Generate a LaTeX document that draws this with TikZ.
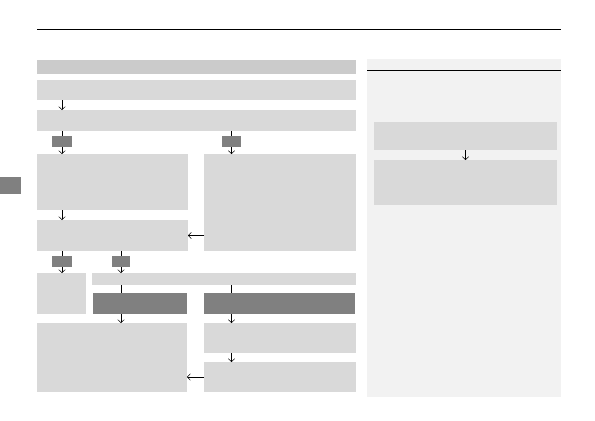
\documentclass[tikz,border=0pt]{standalone}
\usepackage{xcolor}
\usepackage{tikz}
\usetikzlibrary{arrows.meta, calc}
\definecolor{hdrgray}{RGB}{203,203,203}
\definecolor{boxgray}{RGB}{217,217,217}
\definecolor{tagdark}{RGB}{128,128,128}
\definecolor{panelgray}{RGB}{242,242,242}
\tikzset{
  box/.style={rectangle, fill=boxgray, anchor=north west,
    inner sep=0pt, outer sep=0pt},
  hdrbox/.style={box, fill=hdrgray},
  tagbox/.style={box, fill=tagdark},
  darkbox/.style={box, fill=tagdark},
  panelbox/.style={box, fill=panelgray},
  sz/.style 2 args={minimum width=#1bp, minimum height=#2bp},
  arrow/.style={-{Straight Barb[length=3bp, width=6.5bp, line width=0.5bp]},
    line width=0.8bp, color=black},
  line/.style={line width=0.8bp, color=black},
  rule/.style={line width=1bp, color=black}
}
\begin{document}
\begin{tikzpicture}[x=1bp, y=-1bp]
  \useasboundingbox (0,0) rectangle (595,420);
  % page rule and side tab
  \coordinate (ruleL) at (37,29.3);
  \coordinate (ruleR) at (561,29.3);
  \draw[rule] (ruleL) -- (ruleR);
  \node[tagbox, sz={21}{17}] (tab) at (0,177) {};

  % main flow
  \node[hdrbox, sz={319}{14}] (hdr) at (37,60) {};
  \node[box, sz={319}{20}] (step1) at (37,80) {};
  \node[box, sz={319}{21}] (step2) at (37,110) {};
  \node[tagbox, sz={20}{11}] (tagA) at (52,136) {};
  \node[tagbox, sz={19}{11}] (tagB) at (222,136) {};
  \node[box, sz={151}{56}] (leftA) at (37,154) {};
  \node[box, sz={152}{97}] (rightA) at (204,154) {};
  \node[box, sz={151}{31}] (leftB) at (37,220) {};
  \node[tagbox, sz={20}{11}] (tagC) at (52,256) {};
  \node[tagbox, sz={18}{11}] (tagD) at (112,256) {};
  \node[box, sz={49}{41}] (small) at (37,273) {};
  \node[box, sz={264}{12}] (bar) at (92,273) {};
  \node[darkbox, sz={94}{21}] (darkL) at (93,293) {};
  \node[darkbox, sz={151}{21}] (darkR) at (204,293) {};
  \node[box, sz={150}{69}] (leftC) at (37,323) {};
  \node[box, sz={152}{30}] (rightB) at (204,323) {};
  \node[box, sz={152}{30}] (rightC) at (204,362) {};

  \draw[arrow] (step1.south -| tagA) -- (step2.north -| tagA);
  \draw[line] (step2.south -| tagA) -- (tagA.north);
  \draw[arrow] (tagA.south) -- (leftA.north -| tagA);
  \draw[line] (step2.south -| tagB) -- (tagB.north);
  \draw[arrow] (tagB.south) -- (rightA.north -| tagB);
  \draw[arrow] (leftA.south -| tagA) -- (leftB.north -| tagA);
  \draw[arrow] (rightA.west |- leftB) -- (leftB.east);
  \draw[line] (leftB.south -| tagC) -- (tagC.north);
  \draw[arrow] (tagC.south) -- (small.north -| tagC);
  \draw[line] (leftB.south -| tagD) -- (tagD.north);
  \draw[arrow] (tagD.south) -- (bar.north -| tagD);
  \draw[line] (bar.south -| tagD) -- (darkL.north -| tagD);
  \draw[line] (bar.south -| tagB) -- (darkR.north -| tagB);
  \draw[arrow] (darkL.south -| tagD) -- (leftC.north -| tagD);
  \draw[arrow] (darkR.south -| tagB) -- (rightB.north -| tagB);
  \draw[arrow] (rightB.south -| tagB) -- (rightC.north -| tagB);
  \draw[arrow] (rightC.west) -- (rightC.west -| leftC.east);

  % side panel
  \node[panelbox, sz={194}{338}] (side) at (367,59) {};
  \draw[rule] ($(side.north west)+(0,11.3)$) -- ($(side.north east)+(0,11.3)$);
  \node[box, sz={183}{28}] (noteA) at (374,122) {};
  \node[box, sz={183}{45}] (noteB) at (374,160) {};
  \draw[arrow] (noteA.south) -- (noteB.north);
\end{tikzpicture}
\end{document}
